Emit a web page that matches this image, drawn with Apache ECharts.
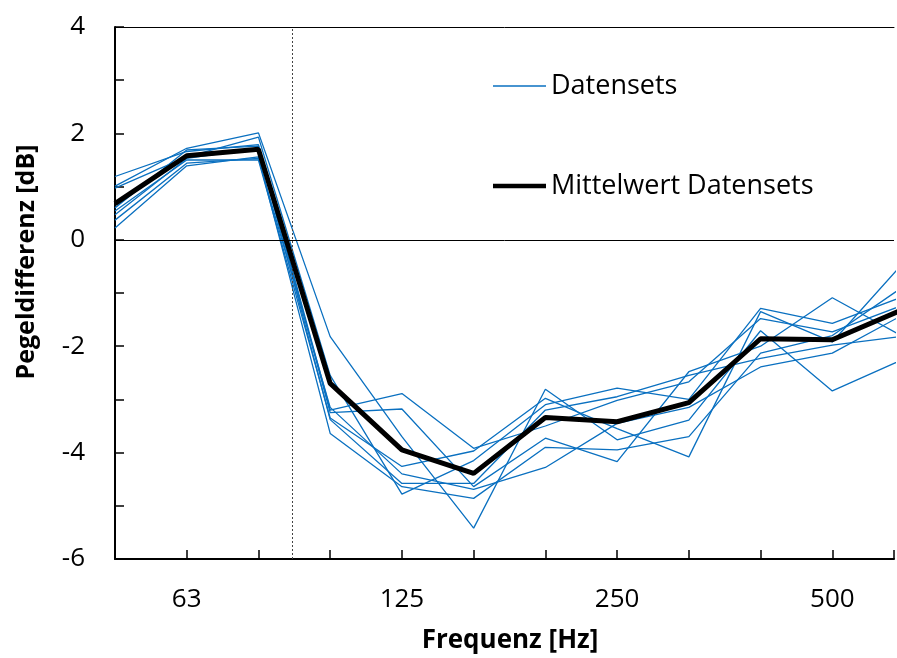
<!DOCTYPE html>
<html>
<head>
<meta charset="utf-8">
<script src="https://cdn.jsdelivr.net/npm/echarts@6/dist/echarts.min.js"></script>
<style>
  html, body { margin: 0; padding: 0; background: #fff; }
  #chart { width: 897px; height: 658px; }
</style>
</head>
<body>
<div id="chart"></div>
<script>
// third-octave bands, the last one lies just past the right edge
const bands = ['50', '63', '80', '100', '125', '160', '200', '250', '315', '400', '500', '630']
const shownBands = ['63', '125', '250', '500']

// single data sets [dB]
const set1 = [1.19, 1.66, 1.79, -3.20, -2.89, -3.92, -3.50, -3.02, -2.67, -1.48, -1.73, -1.22]
const set2 = [1.01, 1.72, 2.01, -1.82, -3.70, -5.42, -2.81, -3.76, -3.39, -1.71, -2.84, -2.24]
const set3 = [0.97, 1.56, 1.93, -2.55, -4.78, -4.15, -3.10, -2.79, -3.00, -1.29, -1.57, -1.06]
const set4 = [0.60, 1.69, 1.76, -3.25, -3.18, -4.64, -3.73, -4.17, -2.48, -2.00, -1.09, -1.83]
const set5 = [0.54, 1.50, 1.50, -3.35, -4.26, -3.97, -2.98, -3.55, -4.08, -1.35, -1.92, -0.42]
const set6 = [0.47, 1.53, 1.72, -3.38, -4.58, -4.58, -3.20, -2.95, -2.55, -2.23, -1.98, -1.81]
const set7 = [0.37, 1.44, 1.53, -3.15, -4.40, -4.69, -4.28, -3.45, -3.15, -2.39, -2.13, -1.40]
const set8 = [0.22, 1.39, 1.56, -3.64, -4.64, -4.86, -3.90, -3.95, -3.70, -2.13, -1.80, -0.87]
const dataSets = [set1, set2, set3, set4, set5, set6, set7, set8]

// mean of all data sets
const meanSet = [0.68, 1.58, 1.70, -2.70, -3.95, -4.39, -3.34, -3.42, -3.06, -1.86, -1.88, -1.30]

// limit frequency marker (band index)
const limitPos = 2.47

const font = '"Open Sans", "Noto Sans", sans-serif'
const blue = '#0a70c0'
const chart = echarts.init(document.getElementById('chart'))

const toPoints = (arr) => arr.map((v, i) => [i, v])

const series = dataSets.map((s) => ({
  name: 'Datensets',
  type: 'line',
  data: toPoints(s),
  symbol: 'none',
  lineStyle: { color: blue, width: 1.3 },
  itemStyle: { color: blue },
  silent: true
}))

series.push({
  name: 'Mittelwert Datensets',
  type: 'line',
  data: toPoints(meanSet),
  symbol: 'none',
  z: 5,
  lineStyle: { color: '#000', width: 5 },
  itemStyle: { color: '#000' },
  markLine: {
    silent: true,
    symbol: 'none',
    label: { show: false },
    data: [
      { yAxis: 0, lineStyle: { color: '#000', width: 1, type: 'solid' } },
      { xAxis: limitPos, lineStyle: { color: '#444', width: 1, type: [2, 2] } }
    ]
  }
})

const option = {
  animation: false,
  backgroundColor: '#fff',
  textStyle: { fontFamily: font },
  grid: { left: 115, top: 27, right: 0, bottom: 99, containLabel: false },
  legend: {
    // plain line icons, no symbol in the middle
    data: [
      { name: 'Datensets', icon: 'path://M0,0H53V1.4H0Z' },
      { name: 'Mittelwert Datensets', icon: 'path://M0,0H53V4.6H0Z' }
    ],
    orient: 'vertical',
    left: 493,
    top: 71,
    padding: 0,
    itemWidth: 53,
    itemHeight: 14,
    itemGap: 70,
    selectedMode: false,
    textStyle: { fontFamily: font, fontSize: 27, lineHeight: 30, color: '#000' }
  },
  xAxis: [
    {
      type: 'value',
      min: 0,
      max: 10.86,
      interval: 1,
      axisLine: { onZero: false, lineStyle: { color: '#000', width: 2 } },
      axisTick: { inside: true, length: 9, lineStyle: { color: '#000', width: 1.5 } },
      splitLine: { show: false },
      axisLabel: {
        margin: 28,
        fontFamily: font,
        fontSize: 26,
        color: '#000',
        formatter: (v) => {
          const b = bands[v]
          return shownBands.includes(b) ? b : ''
        }
      }
    },
    {
      type: 'value',
      position: 'top',
      min: 0,
      max: 10.86,
      axisLine: { show: true, onZero: false, lineStyle: { color: '#000', width: 1 } },
      axisTick: { show: false },
      axisLabel: { show: false },
      splitLine: { show: false }
    }
  ],
  yAxis: {
    type: 'value',
    min: -6,
    max: 4,
    interval: 1,
    axisLine: { show: true, onZero: false, lineStyle: { color: '#000', width: 2 } },
    axisTick: { show: true, inside: true, length: 9, lineStyle: { color: '#000', width: 1.5 } },
    splitLine: { show: false },
    axisLabel: {
      margin: 30,
      fontFamily: font,
      fontSize: 26,
      color: '#000',
      formatter: (v) => (v % 2 === 0 ? String(v) : '')
    }
  },
  graphic: [
    {
      type: 'text',
      x: 510,
      y: 641,
      style: {
        text: 'Frequenz [Hz]',
        font: 'bold 26px ' + font,
        fill: '#000',
        textAlign: 'center',
        textVerticalAlign: 'middle'
      }
    },
    {
      type: 'text',
      x: 27,
      y: 262,
      rotation: Math.PI / 2,
      style: {
        text: 'Pegeldifferenz [dB]',
        font: 'bold 25px ' + font,
        fill: '#000',
        textAlign: 'center',
        textVerticalAlign: 'middle'
      }
    }
  ],
  series: series
}

chart.setOption(option)
</script>
</body>
</html>
